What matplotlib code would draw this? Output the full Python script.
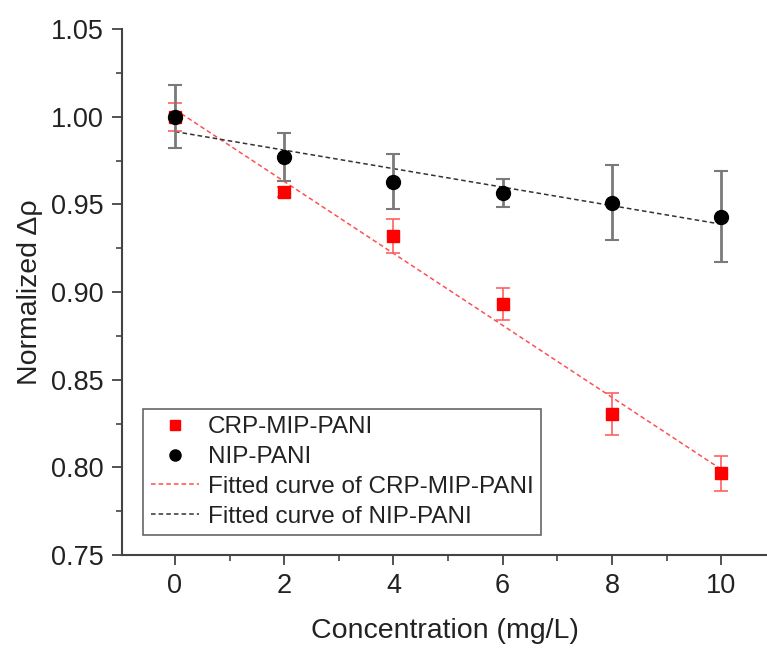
import numpy as np
import matplotlib
matplotlib.use("Agg")
import matplotlib.pyplot as plt
from matplotlib.ticker import MultipleLocator
from matplotlib.lines import Line2D

plt.rcParams['font.family'] = ['Liberation Sans', 'DejaVu Sans']

conc = [0, 2, 4, 6, 8, 10]
crp_vals = [1.000, 0.957, 0.932, 0.893, 0.8305, 0.7965]
crp_err = [0.008, 0.003, 0.0097, 0.009, 0.012, 0.010]
nip_vals = [1.000, 0.977, 0.963, 0.9565, 0.951, 0.943]
nip_err = [0.018, 0.0135, 0.0155, 0.008, 0.0215, 0.026]
labels = ['CRP-MIP-PANI', 'NIP-PANI', 'Fitted curve of CRP-MIP-PANI', 'Fitted curve of NIP-PANI']

fig = plt.figure(figsize=(7.67, 6.5), dpi=100)
ax = fig.add_axes([122/767, 95/650, 645/767, 526/650])

x = np.array(conc, dtype=float)
pc = np.polyfit(x, crp_vals, 1)
pn = np.polyfit(x, nip_vals, 1)
xf = np.array([0.0, 10.0])

ax.errorbar(conc, crp_vals, yerr=crp_err, fmt='s', color='#ff0000', ms=8.5,
            ecolor='#ff6060', elinewidth=1.2, capsize=5, capthick=1.2, zorder=3)
ax.errorbar(conc, nip_vals, yerr=nip_err, fmt='o', color='black', ms=10,
            ecolor='#7a7a7a', elinewidth=2, capsize=5, capthick=1.5, zorder=4)
l1, = ax.plot(xf, np.polyval(pc, xf), linestyle=(0, (3, 2)), color='#ff5050', lw=1.1, zorder=2)
l2, = ax.plot(xf, np.polyval(pn, xf), linestyle=(0, (3, 2)), color='#333333', lw=1.1, zorder=2)

h1 = Line2D([], [], linestyle='none', marker='s', color='#ff0000', ms=7)
h2 = Line2D([], [], linestyle='none', marker='o', color='black', ms=8)

ax.set_xlim(-0.97, 10.84)
ax.set_ylim(0.75, 1.05)
ax.set_xticks([0, 2, 4, 6, 8, 10])
ax.set_yticks([0.75, 0.80, 0.85, 0.90, 0.95, 1.00, 1.05])
ax.set_yticklabels(['0.75', '0.80', '0.85', '0.90', '0.95', '1.00', '1.05'])
ax.xaxis.set_minor_locator(MultipleLocator(1))
ax.yaxis.set_minor_locator(MultipleLocator(0.025))

for s in ['top', 'right']:
    ax.spines[s].set_visible(False)
for s in ['left', 'bottom']:
    ax.spines[s].set_linewidth(1.5)
    ax.spines[s].set_color('#444444')

ax.tick_params(axis='both', which='major', direction='out', length=7, width=1.3,
               color='#444444', labelsize=19.5, labelcolor='#222222', pad=6)
ax.tick_params(axis='both', which='minor', direction='out', length=4, width=1.2,
               color='#444444')

ax.set_xlabel('Concentration (mg/L)', fontsize=20.5, color='#222222', labelpad=14)
ax.set_ylabel('Normalized \u0394\u03c1', fontsize=20.5, color='#222222', labelpad=6)

leg = ax.legend([h1, h2, l1, l2], labels, loc='lower left', bbox_to_anchor=(0.033, 0.038),
                borderaxespad=0, fontsize=17.5, frameon=True, fancybox=False,
                edgecolor='#666666', framealpha=1, handlelength=2.0, handletextpad=0.35,
                labelspacing=0.32, borderpad=0.3)
leg.get_frame().set_linewidth(1.2)
for t in leg.get_texts():
    t.set_color('#222222')

fig.savefig('out.png', dpi=100)
